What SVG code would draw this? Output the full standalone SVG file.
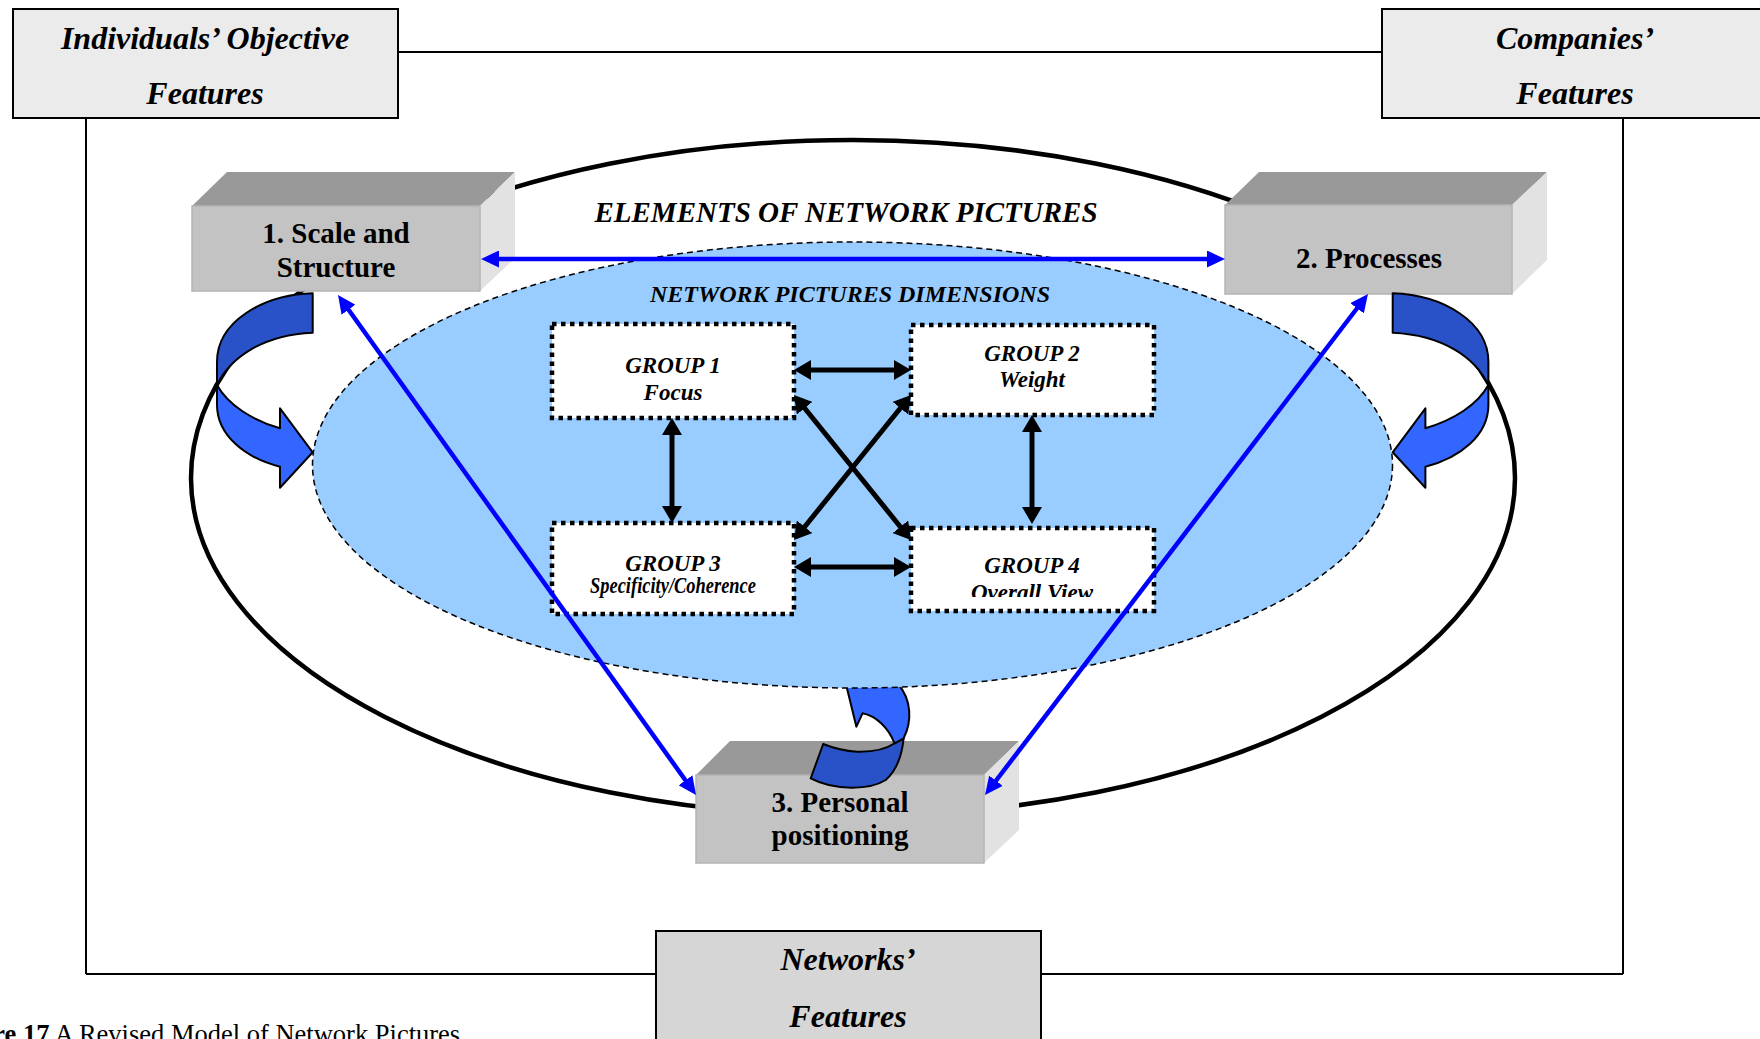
<svg xmlns="http://www.w3.org/2000/svg" width="1760" height="1039" viewBox="0 0 1760 1039">
  <style>
    .frame { fill: none; stroke: #000; stroke-width: 2; }
    .feat { fill: #ebebeb; stroke: #000; stroke-width: 2; }
    .feat-dark { fill: #d6d6d6; stroke: #000; stroke-width: 2; }
    .t-feat { font-family: "Liberation Serif", "Times New Roman", serif; font-style: italic; font-weight: bold; font-size: 32px; text-anchor: middle; fill: #000; }
    .front { fill: #c3c3c3; stroke: #b4b4b4; stroke-width: 1.5; }
    .top { fill: #999999; }
    .side { fill: #e2e2e2; }
    .t-box { font-family: "Liberation Serif", "Times New Roman", serif; font-weight: bold; font-size: 29px; text-anchor: middle; fill: #000; }
    .grp { fill: #fff; stroke: #000; stroke-width: 4.5; stroke-dasharray: 4.5 4.5; }
    .t-grp { font-family: "Liberation Serif", "Times New Roman", serif; font-style: italic; font-weight: bold; font-size: 23px; text-anchor: middle; fill: #000; }
    .t-title { font-family: "Liberation Serif", "Times New Roman", serif; font-style: italic; font-weight: bold; text-anchor: middle; fill: #000; }
    .blk { stroke: #000; stroke-width: 5; fill: none; marker-start: url(#headBlack); marker-end: url(#headBlack); }
    .blu { stroke: #0000ff; stroke-width: 4.5; fill: none; marker-start: url(#headBlue); marker-end: url(#headBlue); }
    .curl-dark { fill: #2a52c8; stroke: #000; stroke-width: 2; stroke-linejoin: round; }
    .curl-light { fill: #3366ff; stroke: #000; stroke-width: 2; stroke-linejoin: round; }
    .caption { font-family: "Liberation Serif", "Times New Roman", serif; font-size: 26.5px; fill: #000; }
  </style>
  <defs>
    <marker id="headBlack" viewBox="0 0 17 20" refX="5" refY="10" markerWidth="17" markerHeight="20" markerUnits="userSpaceOnUse" orient="auto-start-reverse">
      <path d="M0,0 L17,10 L0,20 Z" fill="#000"/>
    </marker>
    <marker id="headBlue" viewBox="0 0 18 17" refX="6" refY="8.5" markerWidth="18" markerHeight="17" markerUnits="userSpaceOnUse" orient="auto-start-reverse">
      <path d="M0,0 L18,8.5 L0,17 Z" fill="#0000ff"/>
    </marker>
    <clipPath id="clipG4">
      <rect x="912" y="528" width="242" height="69"/>
    </clipPath>
  </defs>

  <!-- outer frame joining the three feature boxes -->
  <g id="frame">
    <line class="frame" x1="398" y1="52" x2="1382" y2="52"/>
    <line class="frame" x1="86" y1="118" x2="86" y2="974"/>
    <line class="frame" x1="1623" y1="118" x2="1623" y2="974"/>
    <line class="frame" x1="86" y1="974" x2="656" y2="974"/>
    <line class="frame" x1="1041" y1="974" x2="1623" y2="974"/>
  </g>

  <g id="individuals-features">
    <rect class="feat" x="13" y="9" width="385" height="109"/>
    <text class="t-feat" x="205" y="49">Individuals’ Objective</text>
    <text class="t-feat" x="205" y="104">Features</text>
  </g>

  <g id="companies-features">
    <rect class="feat" x="1382" y="9" width="390" height="109"/>
    <text class="t-feat" x="1575" y="49">Companies’</text>
    <text class="t-feat" x="1575" y="104">Features</text>
  </g>

  <g id="networks-features">
    <rect class="feat-dark" x="656" y="931" width="385" height="120"/>
    <text class="t-feat" x="848" y="970">Networks’</text>
    <text class="t-feat" x="848" y="1027">Features</text>
  </g>

  <!-- outer ring: elements of network pictures -->
  <g id="elements-ring">
    <ellipse cx="853" cy="478" rx="662" ry="338" fill="none" stroke="#000" stroke-width="4.5"/>
  </g>

  <g id="box-personal-positioning">
    <polygon class="top" points="696,775 730,741 1019,741 984,775"/>
    <polygon class="side" points="984,775 1019,741 1019,830 984,863"/>
    <rect class="front" x="696" y="775" width="288" height="88"/>
    <text class="t-box" x="840" y="812">3. Personal</text>
    <text class="t-box" x="840" y="845">positioning</text>
  </g>

  <!-- curled arrow rising from box 3 into the dimensions ellipse -->
  <g id="curl-bottom">
    <path class="curl-dark" d="M823.2,744 L810.7,778.3 C835,791 870,790 885.7,780 C897,770 902,755 903.6,738.3 L894.6,743.3 C885,750 870,752 857,751.7 C845,751 833,748 823.2,744 Z"/>
    <path class="curl-light" d="M894.6,743.3 L903.6,738.3 C912,722 912,700 898,684 L925,676 L842,668 L856.4,726.7 L862.5,713.3 C876,716 888,727 894.6,743.3 Z"/>
  </g>

  <!-- inner ellipse: network pictures dimensions -->
  <g id="dimensions-ellipse">
    <ellipse cx="852.5" cy="465" rx="540" ry="223" fill="#99ccff" stroke="#000" stroke-width="1.5" stroke-dasharray="6 4"/>
    <text class="t-title" x="850" y="302" font-size="24">NETWORK PICTURES DIMENSIONS</text>
  </g>

  <text id="elements-title" class="t-title" x="846" y="221.5" font-size="29">ELEMENTS OF NETWORK PICTURES</text>

  <g id="box-scale-structure">
    <polygon class="top" points="192,206 227,172 515,172 480,206"/>
    <polygon class="side" points="480,206 515,172 515,258 480,291"/>
    <rect class="front" x="192" y="206" width="288" height="85"/>
    <text class="t-box" x="336" y="243">1. Scale and</text>
    <text class="t-box" x="336" y="277">Structure</text>
  </g>

  <g id="box-processes">
    <polygon class="top" points="1225,205 1259,172 1547,172 1512,205"/>
    <polygon class="side" points="1512,205 1547,172 1547,260 1512,294"/>
    <rect class="front" x="1225" y="205" width="287" height="89"/>
    <text class="t-box" x="1369" y="268">2. Processes</text>
  </g>

  <!-- curled arrows from boxes 1 and 2 into the dimensions ellipse -->
  <g id="curl-left">
    <path class="curl-dark" d="M312.7,293.3 C262,295 217,322 217,362 L217,385 C230,358 262,335 312.7,332.7 Z"/>
    <path class="curl-light" d="M217,385 L217,405 C217,435 245,458 280,466.7 L280,487.7 L312.7,452.3 L280,408.3 L280,428.3 C252,420 228,405 217,385 Z"/>
  </g>
  <g id="curl-right" transform="matrix(-1 0 0 1 1705.4 0)">
    <path class="curl-dark" d="M312.7,293.3 C262,295 217,322 217,362 L217,385 C230,358 262,335 312.7,332.7 Z"/>
    <path class="curl-light" d="M217,385 L217,405 C217,435 245,458 280,466.7 L280,487.7 L312.7,452.3 L280,408.3 L280,428.3 C252,420 228,405 217,385 Z"/>
  </g>

  <g id="group-1">
    <rect class="grp" x="552" y="324" width="242" height="94"/>
    <text class="t-grp" x="673" y="373">GROUP 1</text>
    <text class="t-grp" x="673" y="400">Focus</text>
  </g>
  <g id="group-2">
    <rect class="grp" x="911" y="325" width="243" height="90"/>
    <text class="t-grp" x="1032" y="361">GROUP 2</text>
    <text class="t-grp" x="1032" y="387">Weight</text>
  </g>
  <g id="group-3">
    <rect class="grp" x="552" y="523" width="242" height="91"/>
    <text class="t-grp" x="673" y="571">GROUP 3</text>
    <text class="t-grp" x="673" y="593" font-size="17" textLength="166" lengthAdjust="spacingAndGlyphs">Specificity/Coherence</text>
  </g>
  <g id="group-4">
    <rect class="grp" x="911" y="528" width="243" height="83"/>
    <text class="t-grp" x="1032" y="573">GROUP 4</text>
    <text class="t-grp" x="1032" y="600" clip-path="url(#clipG4)">Overall View</text>
  </g>

  <g id="connectors">
    <!-- links between the four dimension groups -->
    <line class="blk" x1="806" y1="370" x2="899" y2="370"/>
    <line class="blk" x1="806" y1="567" x2="899" y2="567"/>
    <line class="blk" x1="672" y1="430" x2="672" y2="511"/>
    <line class="blk" x1="1032" y1="427" x2="1032" y2="512"/>
    <line class="blk" x1="801.5" y1="404.3" x2="903.5" y2="530.7"/>
    <line class="blk" x1="903.5" y1="404.3" x2="801.5" y2="530.7"/>
    <!-- links between the three elements -->
    <line class="blu" x1="493" y1="259" x2="1213" y2="259"/>
    <line class="blu" x1="345" y1="304.8" x2="689" y2="785.2"/>
    <line class="blu" x1="1360.7" y1="303.5" x2="992.3" y2="785.5"/>
  </g>

  <text id="caption" class="caption" x="-6.7" y="1042.5"><tspan font-weight="bold">re 17</tspan> A Revised Model of Network Pictures</text>
</svg>
